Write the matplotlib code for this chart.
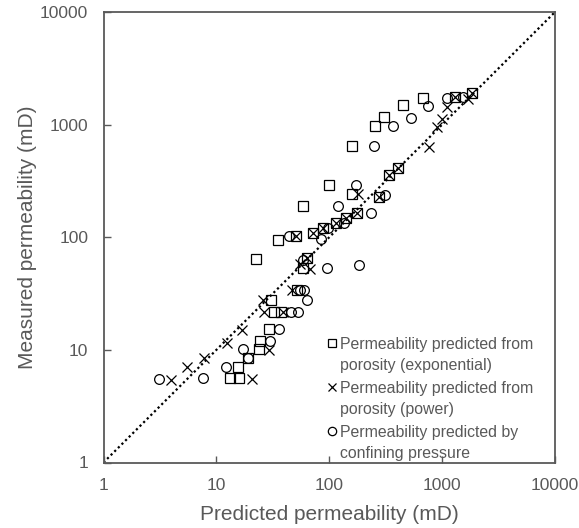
import matplotlib
matplotlib.use("Agg")
import matplotlib.pyplot as plt
from matplotlib.lines import Line2D

GRAY = "#595959"
plt.rcParams["font.family"] = ["Liberation Sans", "DejaVu Sans"]

# Predicted (x) vs measured (y) permeability, mD.
exp_pred = [1824, 1298, 672, 447, 307, 254, 158, 100, 58, 35.1, 22.4,
            403, 340, 276, 158, 175, 141, 115, 88.5, 72, 50.7, 63.4, 58,
            52.1, 30.5, 32.4, 37.1, 29.2, 24.3, 24.0, 19.2, 15.4, 13.1, 16.0]
exp_meas = [1914, 1749, 1727, 1506, 1171, 966, 641, 293, 188, 95, 64,
            412, 359, 228, 242, 164, 148, 135, 121, 109, 102, 65.3, 53.6,
            33.7, 27.8, 21.5, 21.5, 15.3, 11.9, 10.1, 8.4, 7.1, 5.58, 5.58]

pow_pred = [1824, 1693, 1298, 1110, 1002, 894, 769, 403, 340, 276, 181,
            175, 141, 115, 88.5, 72, 50.7, 63.4, 55, 67.5, 46.5, 26.1, 26.4,
            38.7, 16.9, 12.4, 29.4, 7.77, 5.46, 3.96, 20.5]
pow_meas = [1914, 1703, 1749, 1425, 1124, 946, 629, 412, 359, 228, 242,
            164, 148, 135, 121, 109, 102, 65.3, 58.1, 52.5, 33.7, 27.5, 21.5,
            21.5, 15.1, 11.5, 9.9, 8.4, 7.0, 5.41, 5.47]

conf_pred = [1538, 1096, 753, 529, 364, 249, 311, 234, 172, 120, 136, 96.8,
             83.9, 44.2, 58.8, 96.4, 183, 55, 60.1, 63.8, 45.5, 53.1, 36.1,
             29.8, 17.3, 12.2, 19.2, 3.13, 7.61]
conf_meas = [1749, 1727, 1476, 1148, 966, 641, 239, 164, 293, 188, 134, 121,
             96.4, 102, 62.2, 53.2, 57, 33.7, 33.7, 27.8, 21.5, 21.5, 15.3,
             11.9, 10.1, 7.1, 8.4, 5.47, 5.58]

line_ends = [1, 10000]
ticks = [1, 10, 100, 1000, 10000]
labels = ["Permeability predicted from\nporosity (exponential)",
          "Permeability predicted from\nporosity (power)",
          "Permeability predicted by\nconfining pressure"]

fig = plt.figure(figsize=(5.79, 5.28), dpi=100)
ax = fig.add_axes([103.5 / 579, 1 - 462.5 / 528, 451.5 / 579, 450.5 / 528])

ax.plot(line_ends, line_ends, color="black", lw=1.6,
        linestyle=(0, (1, 1.3)), zorder=1)
ax.plot(exp_pred, exp_meas, ls="none", marker="s", ms=7, mfc="none",
        mec="black", mew=0.9, zorder=3)
ax.plot(pow_pred, pow_meas, ls="none", marker="x", ms=7.5,
        mec="black", mew=0.9, zorder=3)
ax.plot(conf_pred, conf_meas, ls="none", marker="o", ms=7, mfc="none",
        mec="black", mew=0.9, zorder=3)

ax.set_xscale("log")
ax.set_yscale("log")
ax.set_xlim(1, 10000)
ax.set_ylim(1, 10000)
ax.set_xticks(ticks)
ax.set_yticks(ticks)
ax.set_xticklabels([str(t) for t in ticks])
ax.set_yticklabels([str(t) for t in ticks])
ax.minorticks_off()
ax.tick_params(direction="in", length=5, width=1, color=GRAY,
               labelcolor=GRAY, labelsize=12.5)
ax.tick_params(axis="x", pad=11)
ax.tick_params(axis="y", pad=11)
for sp in ax.spines.values():
    sp.set_color(GRAY)
    sp.set_linewidth(1.3)

ax.set_xlabel("Predicted permeability (mD)", fontsize=15, color=GRAY,
              labelpad=9)
ax.set_ylabel("Measured permeability (mD)", fontsize=15, color=GRAY,
              labelpad=2)

handles = [
    Line2D([], [], ls="none", marker="s", ms=6, mfc="none", mec="black", mew=0.9),
    Line2D([], [], ls="none", marker="x", ms=6, mec="black", mew=0.9),
    Line2D([], [], ls="none", marker="o", ms=6, mfc="none", mec="black", mew=0.9),
]
leg = ax.legend(handles, labels, loc="upper left",
                bbox_to_anchor=(0.498, 0.278), frameon=False, fontsize=11.4,
                handlelength=0.5, handletextpad=0.25, labelspacing=0.55,
                borderpad=0, borderaxespad=0)
for t in leg.get_texts():
    t.set_color(GRAY)
    t.set_linespacing(1.45)
# put each marker next to the first line of its two-line label
for col in leg._legend_handle_box.get_children():
    for row in col.get_children():
        row.align = "top"

fig.savefig("out.png", dpi=100)
